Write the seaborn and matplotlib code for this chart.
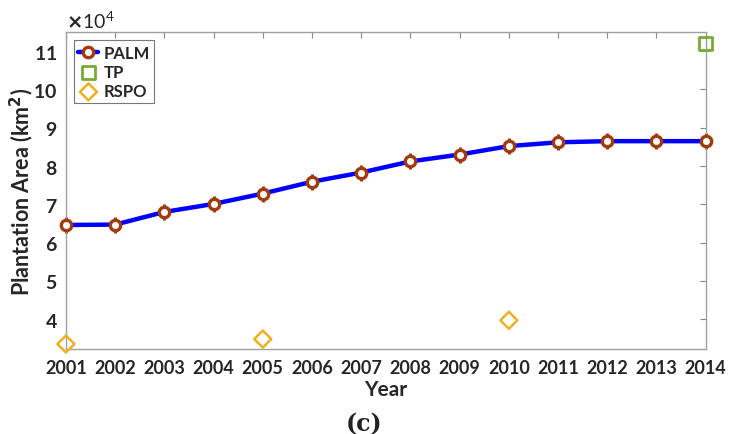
import numpy as np
import pandas as pd
import matplotlib
matplotlib.use("Agg")
import matplotlib.pyplot as plt
import matplotlib.ticker as mticker
import seaborn as sns

# data (km^2)
years = list(range(2001, 2015))
palm_area = [64600, 64700, 68000, 70100, 72800, 75900, 78300, 81200, 83000, 85200,
             86200, 86500, 86500, 86500]
tp_years = [2014]
tp_area = [112000]
rspo_years = [2001, 2005, 2010]
rspo_area = [33500, 34800, 39700]

palm_df = pd.DataFrame({"Year": years, "Area": palm_area})
tp_df = pd.DataFrame({"Year": tp_years, "Area": tp_area})
rspo_df = pd.DataFrame({"Year": rspo_years, "Area": rspo_area})

sns.set_theme(style="white")
plt.rcParams["font.family"] = ["Lato", "DejaVu Sans"]
plt.rcParams["font.weight"] = "bold"
plt.rcParams["xtick.direction"] = "in"
plt.rcParams["ytick.direction"] = "in"

fig = plt.figure(figsize=(7.29, 4.35), dpi=100)
ax = fig.add_axes([0.0905, 0.1954, 0.8775, 0.7286])

brown = "#A23A0A"
sns.lineplot(data=palm_df, x="Year", y="Area", ax=ax, color="#0000FF", linewidth=3.2,
             marker="o", markersize=7.5, markerfacecolor="white", markeredgecolor=brown,
             markeredgewidth=2.4, label="PALM", zorder=3, clip_on=False)
# little vertical ticks through the PALM markers
ax.plot(palm_df["Year"], palm_df["Area"], linestyle="none", marker="|", markersize=12,
        markeredgewidth=2.2, color=brown, zorder=2, clip_on=False)
sns.scatterplot(data=tp_df, x="Year", y="Area", ax=ax, marker="s", s=90,
                facecolor="none", edgecolor="#77AC30", linewidth=2, label="TP",
                zorder=4, clip_on=False)
sns.scatterplot(data=rspo_df, x="Year", y="Area", ax=ax, marker="D", s=75,
                facecolor="none", edgecolor="#EDB120", linewidth=1.8, label="RSPO",
                zorder=4, clip_on=False)

ax.set_xlim(2001, 2014)
ax.set_ylim(32200, 115000)
ax.set_xticks(years)
ax.set_yticks(np.arange(40000, 110001, 10000))
fmt = mticker.ScalarFormatter(useMathText=True)
fmt.set_powerlimits((4, 4))
ax.yaxis.set_major_formatter(fmt)
ax.yaxis.get_offset_text().set_fontsize(14)
ax.yaxis.get_offset_text().set_fontweight("normal")

ax.tick_params(axis="both", colors="#262626", length=4, width=0.8,
               top=True, right=True, pad=7)
ax.tick_params(axis="x", labelsize=13)
ax.tick_params(axis="y", labelsize=14, pad=6)
ax.tick_params(axis="both", color="#888888")
for s in ax.spines.values():
    s.set_visible(True)
    s.set_color("#A0A0A0")
    s.set_linewidth(1.0)

ax.set_xlabel("Year", fontsize=15, fontweight="bold", color="#262626", labelpad=2)
ax.set_ylabel("Plantation Area (km$\\mathbf{^2}$)", fontsize=15.5, fontweight="bold",
              color="#262626")
ax.yaxis.set_label_coords(-0.047, 0.5)

leg = ax.legend(loc="upper left", fontsize=12, frameon=True, fancybox=False,
                edgecolor="#555555", borderpad=0.25, handlelength=1.2, handletextpad=0.3,
                labelspacing=0.2, borderaxespad=0.5)
leg.get_frame().set_linewidth(0.8)

fig.text(0.5, 0.025, "(c)", ha="center", va="center", fontsize=17,
         family=["DejaVu Serif"], color="#222222")

fig.savefig("out.png", dpi=100)
